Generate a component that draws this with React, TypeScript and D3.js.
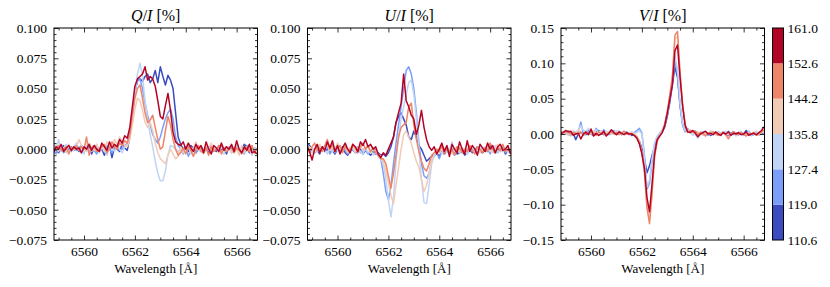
import React, { useEffect, useRef } from 'react';
import * as d3 from 'd3';

// wavelength grid [Å]
const wavelength = [
  6558.8, 6558.9, 6559.0, 6559.1, 6559.2, 6559.3, 6559.4, 6559.5, 6559.6, 6559.7,
  6559.8, 6559.9, 6560.0, 6560.1, 6560.2, 6560.3, 6560.4, 6560.5, 6560.6, 6560.7,
  6560.8, 6560.9, 6561.0, 6561.1, 6561.2, 6561.3, 6561.4, 6561.5, 6561.6, 6561.7,
  6561.8, 6561.9, 6562.0, 6562.1, 6562.2, 6562.3, 6562.4, 6562.5, 6562.6, 6562.7,
  6562.8, 6562.9, 6563.0, 6563.1, 6563.2, 6563.3, 6563.4, 6563.5, 6563.6, 6563.7,
  6563.8, 6563.9, 6564.0, 6564.1, 6564.2, 6564.3, 6564.4, 6564.5, 6564.6, 6564.7,
  6564.8, 6564.9, 6565.0, 6565.1, 6565.2, 6565.3, 6565.4, 6565.5, 6565.6, 6565.7,
  6565.8, 6565.9, 6566.0, 6566.1, 6566.2, 6566.3, 6566.4, 6566.5, 6566.6, 6566.7, 6566.8,
];

// colorbar bin edges and the colour of each bin (coolwarm)
const binEdges = [110.6, 119.0, 127.4, 135.8, 144.2, 152.6, 161.0];
const binColors = ['#3b4cc0', '#7b9ff9', '#c0d4f5', '#f2cbb7', '#ee8468', '#b40426'];

// all profiles in units of 1e-3
const qBin1 = [2, -1, -3, 1, 3, -2, 0, 2, -1, 1, -2, 3, 0, -1, 2, -4, 1, 3, -2, 0, -5, 1, 3, -7, 2, 0, -2, 4, 1, -1,
  10, 28, 47, 57, 58, 56, 60, 62, 55, 58, 65, 55, 68, 60, 53, 61, 57, 50, 30, 10,
  4, 0, 2, -2, 3, 1, -3, 0, 2, -1, 1, -3, 2, 0, -2, 3, -1, 1, -4, 2, 0, -2, 3, -1, 0, 4, 2, -3, 1, -2, -3];
const qBin2 = [0, -4, 2, 1, -3, 0, 3, -2, 1, -1, 2, -3, 0, 1, -2, 2, -1, -4, 1, 0, -2, 3, 0, -3, 1, 2, -1, 0, 3, 5,
  14, 30, 47, 56, 58, 50, 38, 28, 20, 12, 8, 5, 10, 18, 25, 30, 33, 25, 10, 3,
  0, -4, 2, -6, -1, 1, -3, 2, 0, -2, -1, 2, -3, 0, 1, -2, 3, 0, -1, 2, -3, 0, 2, -1, 1, -4, 3, 0, -2, 1, 0];
const qBin3 = [3, 0, 8, -2, 1, 4, -3, 0, 2, 5, -1, 2, -4, 3, 0, -2, 1, 4, -3, 2, 0, -5, 2, 1, -2, 3, 0, -3, 2, 4,
  10, 25, 45, 62, 71, 60, 40, 25, 12, 2, -10, -20, -26, -26, -18, -5, 3, 2, 0, -2,
  1, -3, 0, 2, -4, 1, 3, -1, -2, 0, 2, -1, -3, 1, 0, 3, -2, -4, 1, 2, -1, 0, 3, -2, 1, -3, 2, 0, -5, 1, -1];
const qBin4 = [5, 2, -2, 3, 0, -3, 4, 1, -1, 2, 8, 3, 0, -2, 5, 2, -1, 4, 0, 3, -2, 6, 3, 0, 8, 4, 10, 6, 3, 2,
  8, 20, 33, 42, 40, 32, 22, 18, 22, 15, 5, -3, -8, -10, -12, -5, 0, -4, -8, -6,
  2, -3, 0, 4, -2, 1, 6, -1, 2, -4, 3, 0, 5, -2, 1, -3, 4, 2, -1, 0, -3, 2, 0, -5, 3, 1, -2, 0, 3, -4, -2];
const qBin5 = [-2, 1, 3, -1, 0, 2, -4, 1, 0, 3, -1, 2, 0, 10, -5, 1, 3, -2, 0, 2, 4, -3, 1, 6, 2, 0, 5, 3, 7, 5,
  12, 28, 42, 50, 53, 42, 30, 22, 24, 28, 18, 8, 0, 2, 15, 27, 20, 8, 0, -5,
  -3, 1, -4, 2, -1, -6, 0, 3, -2, -3, 1, -5, 2, -2, 0, 3, -4, 1, -2, 0, 2, -3, 1, -1, -4, 0, 2, -2, 3, -3, 1];
const qBin6 = [-3, 2, 0, 4, -2, 1, 3, -1, 2, 0, 1, -3, 2, 0, 4, -1, 3, 0, -2, 5, 2, -1, 6, 1, 4, 2, 8, 5, 11, 9,
  18, 35, 52, 58, 60, 62, 68, 57, 60, 58, 52, 40, 27, 25, 36, 46, 32, 14, 6, 4,
  3, 6, 0, 5, 1, -2, 4, 0, 3, -3, 6, 0, -4, 3, 1, -2, 5, -1, 2, 0, 4, -2, 7, 0, -3, 2, -1, 4, -3, -2, -4];

const uBin1 = [5, 3, 0, -3, -1, -4, 2, -2, 0, -3, -1, -4, 0, -2, 2, -3, -5, -1, 0, -3, -2, 0, -4, -1, -3, -5, -2, -4, -3, -5,
  -4, -6, -3, 2, 10, 22, 27, 30, 25, 20, 10, 8, 15, 10, 3, 0, -5, -10, -8, -6,
  -4, -3, -6, -2, -4, -1, -3, 0, -2, -4, -3, -1, -5, -2, 0, -3, -1, 2, -2, -3, 0, -2, 4, -1, -3, 0, -2, 1, -4, -1, -2];
const uBin2 = [4, 1, -2, 0, 3, -3, 1, -1, 2, -4, 0, -3, 1, 2, -2, 0, -4, 1, -1, -2, 2, -3, 0, -1, -4, -2, -3, 0, -5, -8,
  -20, -35, -42, -30, -12, 5, 20, 35, 50, 65, 68, 62, 50, 30, 5, -12, -22, -24, -20, -10,
  -6, -3, -8, -2, -4, 0, -3, -1, -5, -2, 0, -3, -1, -4, 2, -2, 0, -3, -1, 1, -2, 0, -4, 1, -2, -3, 0, 2, -3, -1, -2];
const uBin3 = [2, 0, -3, 1, -2, 3, -1, 0, -4, 1, -2, 2, -1, -3, 0, 3, -2, -1, 1, -3, 0, -2, -4, 1, -3, -1, -5, -3, -6, -8,
  -12, -25, -42, -56, -40, -10, 10, 25, 35, 45, 55, 57, 45, 25, 0, -25, -44, -45, -30, -12,
  -5, -2, 0, -4, 1, -3, -1, 6, -2, 0, -3, 1, -1, -4, 2, 0, -2, -3, 1, -1, 0, 2, -2, -1, 3, -3, 0, -2, 1, -3, 0];
const uBin4 = [-1, 2, 0, -3, 1, 4, -2, 0, 3, -1, 2, -2, 5, 0, -1, 3, -3, 1, 2, -2, 1, 3, -1, 0, 2, -3, 1, -2, -4, -6,
  -10, -18, -28, -38, -45, -30, -15, 0, 12, 15, 10, 5, -3, -10, -15, -25, -35, -30, -20, -10,
  -4, -1, -3, 1, -2, 2, -1, -4, 0, 2, -2, 1, -3, 0, 3, -1, -2, 1, -3, 0, 2, -1, 0, -3, 1, 4, -2, 0, -1, 2, -3];
const uBin5 = [0, -3, 2, 5, -1, 1, -2, 3, 8, 0, 4, -2, 1, 3, -3, 2, 0, -1, 4, 1, -3, 2, 5, 0, 3, -2, 1, -3, -5, -8,
  -8, -12, -22, -32, -20, -5, 10, 18, 20, 22, 35, 38, 20, 8, -2, -10, -16, -18, -12, -5,
  -3, 0, -2, 3, -4, 1, -2, 0, -5, 2, 1, -3, 0, -2, 3, -1, -4, 2, 0, -3, 1, -2, 5, 0, -3, 2, -1, 4, -2, 0, -3];
const uBin6 = [3, -2, -9, 0, 4, -3, 2, -1, 6, 1, 7, -2, 3, -4, 1, 5, 0, -3, 4, 2, -2, 6, 3, 8, 2, 4, 0, 2, -4, -7,
  -3, -5, 0, 5, 10, 22, 30, 38, 62, 40, 35, 28, 25, 12, 20, 32, 18, 8, 2, -1,
  2, -4, 0, 5, -2, 3, -6, 4, 0, -3, 6, 0, -4, 7, -2, 3, 0, -5, 4, 1, -2, 5, 0, 3, -3, 2, 4, -1, 0, 3, -4];

const vBin1 = [3, 1, 2, 0, -2, 1, -8, 0, 2, 1, -1, 2, 0, -2, 3, 5, 1, -1, 2, 0, 1, 4, 0, 2, -1, 3, 0, 1, -2, -1,
  -4, -10, -20, -35, -55, -45, -30, -18, -8, -2, 3, 10, 25, 45, 70, 95, 80, 40, 15, 5,
  5, 3, 2, 4, 0, 2, -1, 3, 1, -2, 0, 2, -1, 1, 3, 0, -2, 1, 3, 0, -1, 2, 0, 5, 1, -2, 0, 2, -1, 0, 3];
const vBin2 = [1, 0, 3, -1, 2, 4, 2, 3, 17, 0, 0, 5, 2, -2, 8, 3, 0, 6, 2, -1, 3, 5, 1, 4, 2, 0, 3, 1, 0, 2,
  5, 8, 2, -30, -78, -70, -40, -15, -5, 0, 5, 12, 28, 50, 75, 102, 85, 40, 12, 3,
  8, 2, 4, 0, -5, 2, 3, 0, -2, 4, 1, -1, 3, 0, 2, -2, 4, 1, -1, 2, 0, 3, -2, 1, 4, 0, -1, 2, 0, 3, 1];
const vBin3 = [-2, 1, 0, 4, -3, 2, 3, 5, 12, 5, 4, 8, 3, 0, 6, 2, 5, 1, 4, 2, 0, 3, 5, 2, 1, 4, 0, 2, 3, 1,
  2, 5, 0, -35, -75, -65, -35, -12, -3, 2, 6, 14, 30, 52, 80, 110, 92, 45, 15, 5,
  6, 3, -2, 0, -6, 1, 3, -1, 2, 0, 3, 0, -2, 2, 1, 4, -1, 0, 2, -3, 1, 2, -1, 0, 3, -2, 1, 4, 0, 2, 3];
const vBin4 = [2, 0, 3, -2, 1, 4, 0, 6, 2, -1, 3, 1, 0, 5, 2, -1, 4, 0, 2, 3, 1, 0, 4, 2, -1, 3, 0, 1, 2, 0,
  -3, -10, -25, -50, -100, -120, -80, -30, -10, -2, 4, 15, 33, 55, 80, 135, 138, 85, 40, 12,
  4, 6, 2, 0, 3, 1, -2, 2, 0, 4, 1, -1, 2, 0, 3, -2, 1, 0, 2, -1, 3, 0, 1, -2, 2, 0, 3, 1, -1, 2, 4];
const vBin5 = [0, 3, 2, 5, -1, 2, 1, 0, 3, -2, 2, 0, 4, 1, -2, 3, 0, 2, -1, 1, 3, 0, 2, -1, 1, 4, 0, -1, 1, -2,
  -4, -12, -26, -55, -105, -127, -85, -32, -10, -3, 3, 14, 32, 55, 82, 140, 145, 88, 42, 14,
  2, 5, 3, 4, 0, 2, 1, -3, 2, 0, 3, 1, -2, 0, 2, -1, -7, 0, 3, 1, -1, 2, 0, -3, 1, 0, 2, -2, 0, 3, 6];
const vBin6 = [0, 2, 5, 3, 4, -2, 0, 1, -7, 0, 3, -1, 7, -3, 1, -2, 0, 4, -3, 1, 6, 2, -1, 3, 1, -1, 2, 0, 0, -2,
  -6, -14, -28, -48, -90, -110, -70, -28, -8, -3, 2, 12, 30, 50, 70, 118, 126, 80, 40, 12,
  3, 2, 5, 1, -4, 0, 2, 4, 0, 1, -1, 3, 0, -2, 2, 0, 3, -2, 1, 0, 2, -1, 0, 3, -2, 0, 1, -1, 2, 5, 10];

const xTicks = [6560, 6562, 6564, 6566];
const qTicks = [-0.075, -0.05, -0.025, 0, 0.025, 0.05, 0.075, 0.1];
const vTicks = [-0.15, -0.1, -0.05, 0, 0.05, 0.1, 0.15];

const FONT = '"Liberation Serif", "Times New Roman", "DejaVu Serif", serif';

const panels = [
  { name: 'Q', series: [qBin1, qBin2, qBin3, qBin4, qBin5, qBin6], domain: [-0.075, 0.1], ticks: qTicks, minorStep: 0.005, fmt: '.3f', left: 54 },
  { name: 'U', series: [uBin1, uBin2, uBin3, uBin4, uBin5, uBin6], domain: [-0.075, 0.1], ticks: qTicks, minorStep: 0.005, fmt: '.3f', left: 307.5 },
  { name: 'V', series: [vBin1, vBin2, vBin3, vBin4, vBin5, vBin6], domain: [-0.15, 0.15], ticks: vTicks, minorStep: 0.01, fmt: '.2f', left: 561 },
];

const App: React.FC = () => {
  const ref = useRef<SVGSVGElement>(null);

  useEffect(() => {
    if (!ref.current) return;
    const svg = d3.select(ref.current);
    svg.selectAll('*').remove();

    const top = 28;
    const bottom = 240;
    const panelW = 203.5;

    const styleAxis = (sel: d3.Selection<SVGGElement, unknown, null, undefined>) => {
      sel.select('.domain').remove();
      sel.attr('font-family', null).attr('font-size', null);
      sel.selectAll('line').attr('stroke', '#000').attr('stroke-width', 0.8);
      sel.selectAll('text').attr('fill', '#000').style('font-family', FONT).style('font-size', '13.5px');
    };

    panels.forEach(p => {
      const x = d3.scaleLinear().domain([6558.82, 6566.82]).range([p.left, p.left + panelW]);
      const y = d3.scaleLinear().domain(p.domain).range([bottom, top]);
      const g = svg.append('g');

      const clipId = `clip-${p.name}`;
      g.append('clipPath').attr('id', clipId)
        .append('rect').attr('x', p.left).attr('y', top).attr('width', panelW).attr('height', bottom - top);

      const line = d3.line<number>()
        .x((_, i) => x(wavelength[i]))
        .y(d => y(d / 1000));

      const lines = g.append('g').attr('clip-path', `url(#${clipId})`);
      p.series.forEach((s, k) => {
        lines.append('path')
          .attr('d', line(s) || '')
          .attr('fill', 'none')
          .attr('stroke', binColors[k])
          .attr('stroke-width', 1.5)
          .attr('stroke-linejoin', 'round');
      });

      const xMinor = d3.range(6559, 6567, 0.5).filter(v => !xTicks.includes(v));
      const yMinor = d3.range(p.domain[0], p.domain[1] + 1e-9, p.minorStep)
        .filter(v => !p.ticks.some(t => Math.abs(t - v) < 1e-9));

      // bottom
      g.append('g').attr('transform', `translate(0,${bottom})`)
        .call(d3.axisBottom(x).tickValues(xTicks).tickSizeInner(-4.5).tickSizeOuter(0).tickPadding(6).tickFormat(d3.format('d')))
        .call(styleAxis);
      g.append('g').attr('transform', `translate(0,${bottom})`)
        .call(d3.axisBottom(x).tickValues(xMinor).tickSizeInner(-2.5).tickSizeOuter(0).tickFormat(() => ''))
        .call(styleAxis);
      // top
      g.append('g').attr('transform', `translate(0,${top})`)
        .call(d3.axisTop(x).tickValues(xTicks).tickSizeInner(-4.5).tickSizeOuter(0).tickFormat(() => ''))
        .call(styleAxis);
      g.append('g').attr('transform', `translate(0,${top})`)
        .call(d3.axisTop(x).tickValues(xMinor).tickSizeInner(-2.5).tickSizeOuter(0).tickFormat(() => ''))
        .call(styleAxis);
      // left
      g.append('g').attr('transform', `translate(${p.left},0)`)
        .call(d3.axisLeft(y).tickValues(p.ticks).tickSizeInner(-4.5).tickSizeOuter(0).tickPadding(7).tickFormat(d3.format(p.fmt)))
        .call(styleAxis);
      g.append('g').attr('transform', `translate(${p.left},0)`)
        .call(d3.axisLeft(y).tickValues(yMinor).tickSizeInner(-2.5).tickSizeOuter(0).tickFormat(() => ''))
        .call(styleAxis);
      // right
      g.append('g').attr('transform', `translate(${p.left + panelW},0)`)
        .call(d3.axisRight(y).tickValues(p.ticks).tickSizeInner(-4.5).tickSizeOuter(0).tickFormat(() => ''))
        .call(styleAxis);
      g.append('g').attr('transform', `translate(${p.left + panelW},0)`)
        .call(d3.axisRight(y).tickValues(yMinor).tickSizeInner(-2.5).tickSizeOuter(0).tickFormat(() => ''))
        .call(styleAxis);

      g.append('rect')
        .attr('x', p.left).attr('y', top).attr('width', panelW).attr('height', bottom - top)
        .attr('fill', 'none').attr('stroke', '#000').attr('stroke-width', 1);

      const title = g.append('text')
        .attr('x', p.left + panelW / 2).attr('y', 21)
        .attr('text-anchor', 'middle')
        .style('font-family', FONT).style('font-size', '16px').attr('fill', '#000');
      title.append('tspan').attr('font-style', 'italic').text(p.name);
      title.append('tspan').text('/');
      title.append('tspan').attr('font-style', 'italic').text('I');
      title.append('tspan').text(' [%]');

      g.append('text')
        .attr('x', p.left + panelW / 2).attr('y', 273)
        .attr('text-anchor', 'middle')
        .style('font-family', FONT).style('font-size', '13px').attr('fill', '#000')
        .text('Wavelength [Å]');
    });

    // colorbar
    const cbLeft = 772.5;
    const cbW = 11;
    const cy = d3.scaleLinear().domain([binEdges[0], binEdges[binEdges.length - 1]]).range([bottom, top]);
    const cb = svg.append('g');
    binColors.forEach((c, i) => {
      cb.append('rect')
        .attr('x', cbLeft).attr('y', cy(binEdges[i + 1]))
        .attr('width', cbW).attr('height', cy(binEdges[i]) - cy(binEdges[i + 1]))
        .attr('fill', c);
    });
    cb.append('rect')
      .attr('x', cbLeft).attr('y', top).attr('width', cbW).attr('height', bottom - top)
      .attr('fill', 'none').attr('stroke', '#000').attr('stroke-width', 1);
    cb.append('g').attr('transform', `translate(${cbLeft + cbW},0)`)
      .call(d3.axisRight(cy).tickValues(binEdges).tickSizeInner(0).tickSizeOuter(0).tickPadding(4).tickFormat(d3.format('.1f')))
      .call(styleAxis);
  }, []);

  return (
    <svg ref={ref} width={830} height={287}
      style={{ position: 'absolute', left: 0, top: 0, background: '#fff' }} />
  );
};

export default App;
